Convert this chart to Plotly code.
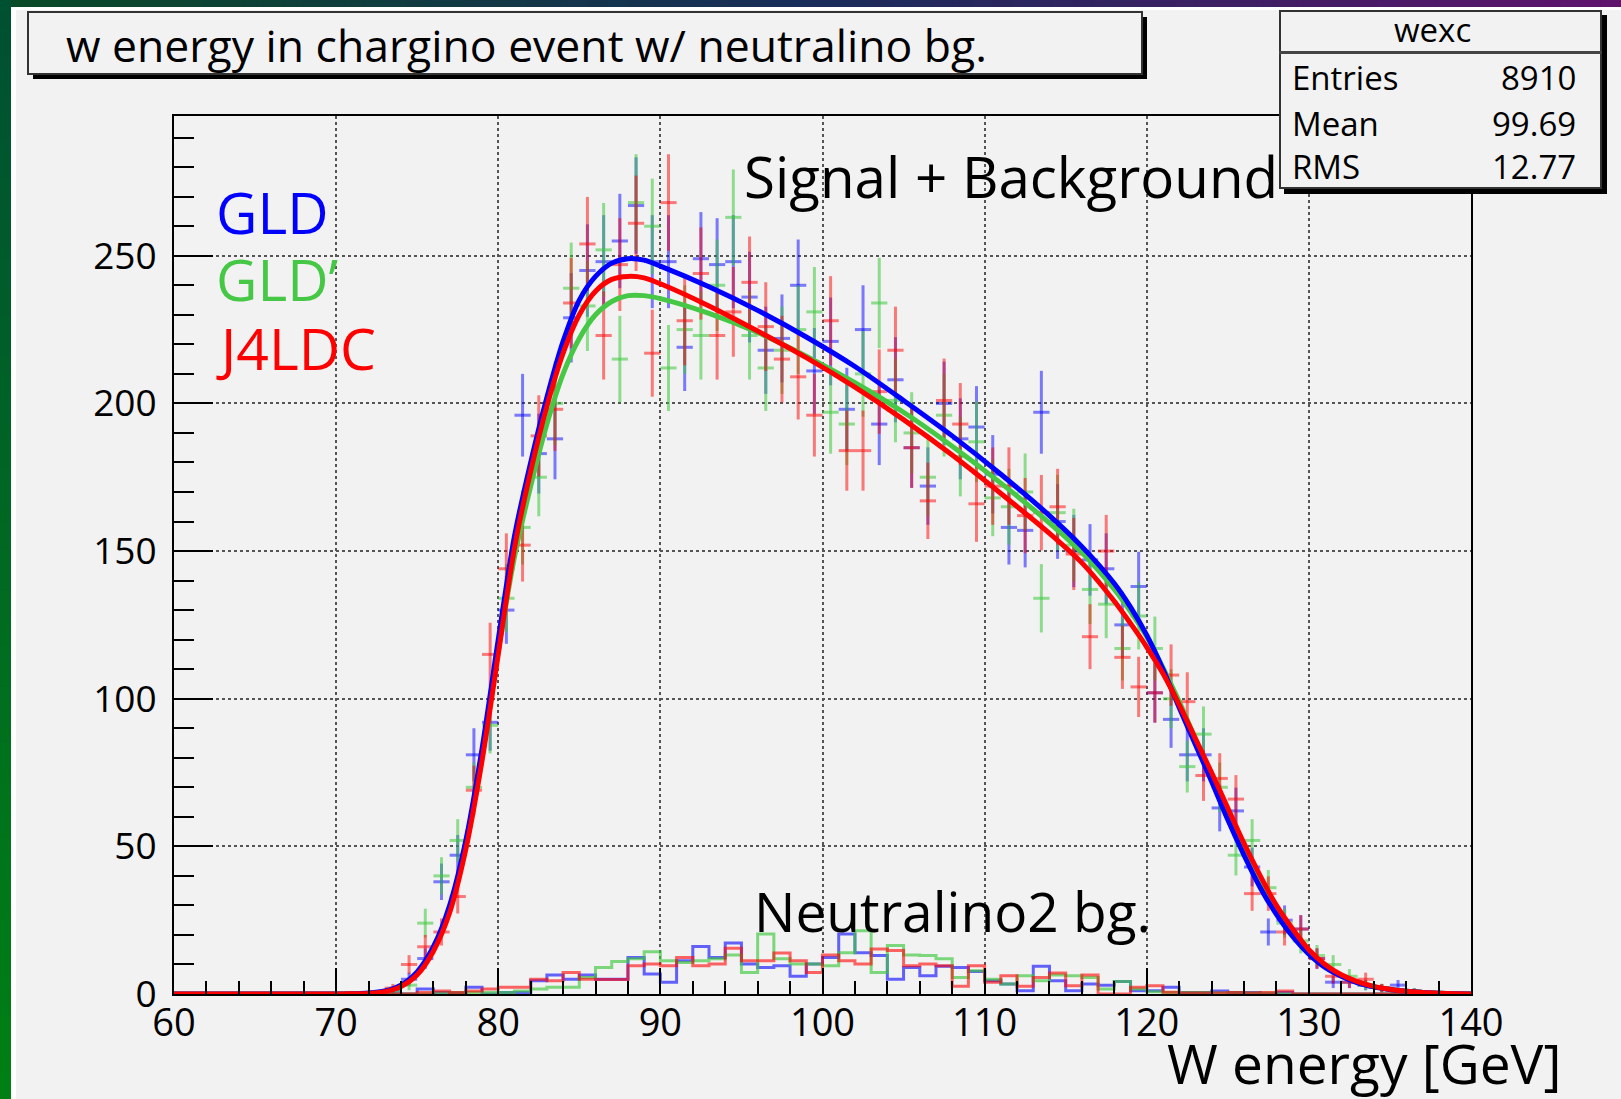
import numpy as np
import plotly.graph_objects as go

# ---------------- data ----------------
# signal + background histograms, 1 GeV bins, centres 72.5 ... 137.5
bin_centers = [72.5 + i for i in range(66)]
gld_counts = [0, 1, 5, 12, 38, 47, 81, 92, 130, 196,
              183, 188, 229, 245, 248, 255, 267, 248, 248, 219,
              249, 247, 248, 236, 218, 222, 240, 211, 221, 198,
              225, 193, 208, 185, 172, 200, 188, 192, 176, 158,
              157, 197, 160, 150, 147, 144, 125, 138, 102, 93,
              81, 81, 63, 62, 43, 21, 25, 22, 12, 4,
              4, 3, 2, 3, 1, 0]
gldp_counts = [0, 1, 3, 24, 40, 52, 70, 91, 134, 158,
               175, 200, 239, 233, 252, 215, 268, 260, 212, 225,
               223, 240, 263, 223, 212, 218, 225, 231, 197, 193,
               210, 234, 201, 190, 175, 196, 182, 187, 168, 165,
               170, 134, 163, 152, 137, 132, 117, 128, 117, 100,
               77, 88, 70, 47, 52, 36, 24, 18, 13, 10,
               6, 3, 2, 1, 1, 0]
j4ldc_counts = [0, 2, 10, 16, 21, 33, 69, 115, 144, 152,
                189, 198, 234, 254, 223, 247, 261, 217, 268, 228,
                244, 223, 231, 241, 226, 215, 209, 196, 228, 184,
                184, 204, 218, 185, 167, 201, 193, 166, 172, 172,
                162, 163, 165, 149, 121, 150, 114, 104, 102, 108,
                99, 74, 73, 66, 34, 34, 21, 22, 12, 6,
                4, 5, 2, 1, 0, 0]

# fit curves read at these energies (GeV)
curve_x = ([70, 71, 72, 73, 74, 75, 76, 77, 78, 79, 80, 81, 82, 83, 84, 85, 86, 87, 88, 89, 90]
           + [93, 96, 99, 102, 105, 108, 111, 114, 116]
           + [118, 119, 120, 121, 122, 123, 124, 125, 126, 127, 128, 129, 130, 131, 132, 133, 134,
              135, 136, 137, 138, 139, 140])
gld_fit = ([0, 0.1, 0.3, 1, 3, 7.5, 16, 30, 52, 83, 120, 155, 180, 202, 221, 235, 243, 247.5, 249, 248.5, 246.5]
           + [239.5, 231.5, 222.5, 212.5, 201, 189, 176, 162, 151.5]
           + [139, 131, 121.5, 110, 97, 84.5, 72, 59, 47, 36, 27, 19.5, 13.5, 9, 6, 3.8, 2.4,
              1.5, 0.9, 0.5, 0.25, 0.1, 0])
gldp_fit = ([0, 0.1, 0.25, 0.9, 2.7, 7, 15, 28.5, 50, 80, 116, 148, 172, 193, 210, 222, 230, 234.5, 236.5, 236.5, 235.5]
            + [230.5, 224, 216, 207, 197, 185.5, 173, 159.5, 149.5]
            + [137, 129.5, 121, 110.5, 99, 86.5, 74, 61.5, 49.5, 38.5, 29, 21, 14.5, 9.5, 6.2, 4, 2.5,
               1.5, 0.9, 0.5, 0.25, 0.1, 0])
j4ldc_fit = ([0, 0.1, 0.2, 0.8, 2.5, 6.5, 14.5, 27.5, 49, 79, 115, 151, 177, 199, 217, 230, 238, 242, 243, 242.5, 240.5]
             + [233, 224.5, 215.5, 205.5, 194.5, 182.5, 169.5, 156, 146]
             + [133, 125.5, 117.5, 108.5, 98, 86.5, 75, 63, 51, 40, 30, 22, 15, 10, 6.5, 4.2, 2.6,
                1.6, 0.9, 0.5, 0.25, 0.1, 0])

# neutralino2 background, 1 GeV bins, low edges 74 ... 128
bg_low_edges = [74 + i for i in range(55)]
gld_bg = [0, 1.7, 0.5, 0.3, 2.3, 0, 0.5, 0.5, 4.5, 6.4,
          5, 6.4, 5, 5, 12.4, 6.8, 4, 11.3, 16.1, 12.4,
          17.3, 10.2, 9, 9.6, 6, 10.2, 12.4, 20.3, 14, 13,
          5, 9, 6.2, 9.4, 9, 7.6, 4.5, 3.4, 1.1, 9.4,
          4.5, 1.1, 3.4, 3, 4.2, 1.1, 1.1, 2.3, 0.5, 0.5,
          1, 0.5, 0.5, 0, 0.5]
gldp_bg = [0, 0, 0.3, 0.5, 0.5, 0.5, 0.5, 1, 1.7, 2.3,
           2.3, 5.6, 9, 11, 11.9, 14.3, 11.3, 10.7, 11.3, 11.9,
           13.2, 7.3, 20.3, 11.9, 10.2, 10.2, 9.6, 14, 21.4, 7.3,
           16.4, 13.2, 13, 11.9, 5.6, 7.9, 5, 3.4, 6.2, 4.5,
           6.4, 6.2, 5.6, 1.7, 4.2, 1.7, 0.8, 0.5, 0.5, 0.5,
           0.3, 0.5, 0.3, 0.3, 0]
j4ldc_bg = [0, 0.5, 1, 0.5, 1, 1.7, 2.3, 2.3, 5, 4.5,
            7.3, 5, 4.9, 4.9, 9.6, 10.2, 9.6, 12.4, 9.6, 10.2,
            15.5, 11.3, 11.3, 13.9, 11.3, 7.3, 13.2, 11.3, 10.2, 15.2,
            14.7, 9.6, 10.2, 9.6, 2.6, 9.6, 4, 6.2, 2.6, 5.6,
            7.1, 2.8, 6.4, 0, 0, 2.3, 2.8, 0.6, 0.3, 0.3,
            0.3, 0.5, 0.3, 0.5, 1]

x_ticks = [60, 70, 80, 90, 100, 110, 120, 130, 140]
y_ticks = [0, 50, 100, 150, 200, 250]
stats = [("Entries", "8910"), ("Mean", "99.69"), ("RMS", "12.77")]

# ---------------- styling ----------------
FONT = "Open Sans"
BG = "#f2f2f2"
BLUE, GREEN, RED = "#0000ff", "#46c846", "#ff0000"
BLUE_A, GREEN_A, RED_A = "rgba(0,0,255,0.5)", "rgba(60,200,60,0.55)", "rgba(255,0,0,0.5)"

FW, FH = 1621, 1099
L, T, Wd, Ht = 174, 116, 1297, 878


def px(x):
    return (x - L) / Wd


def py(y):
    return (T + Ht - y) / Ht


fig = go.Figure()

# data points with errors
for counts, col in [(gld_counts, BLUE_A), (gldp_counts, GREEN_A), (j4ldc_counts, RED_A)]:
    xs = [c for c, v in zip(bin_centers, counts) if v > 0]
    ys = [v for v in counts if v > 0]
    fig.add_trace(go.Scatter(
        x=xs, y=ys, mode="markers",
        marker=dict(size=1, color="rgba(0,0,0,0)"),
        error_y=dict(type="data", array=list(np.sqrt(ys)), color=col, thickness=3, width=0),
        error_x=dict(type="constant", value=0.5, color=col, thickness=3, width=0),
        showlegend=False, hoverinfo="skip"))

# background histograms as steps over the full range
edges = list(range(60, 141))
for bgv, col in [(gld_bg, "rgba(0,0,255,0.6)"), (gldp_bg, "rgba(60,200,60,0.65)"), (j4ldc_bg, "rgba(255,0,0,0.6)")]:
    full = np.zeros(80)
    start = bg_low_edges[0] - 60
    full[start:start + len(bgv)] = bgv
    ys = list(full) + [full[-1]]
    fig.add_trace(go.Scatter(x=edges, y=ys, mode="lines", line=dict(color=col, width=3, shape="hv"),
                             showlegend=False, hoverinfo="skip"))

# fit curves
for fit, col in [(gldp_fit, GREEN), (gld_fit, BLUE), (j4ldc_fit, RED)]:
    fig.add_trace(go.Scatter(x=[60] + curve_x, y=[0] + fit, mode="lines",
                             line=dict(color=col, width=5, shape="spline", smoothing=0.8),
                             showlegend=False, hoverinfo="skip"))

# ---------------- decorations ----------------
shapes = []
n = 80
c_top = [(10, 75, 40), (25, 45, 90), (95, 20, 110)]


def lerp3(stops, t):
    if t < 0.5:
        a, b, u = stops[0], stops[1], t / 0.5
    else:
        a, b, u = stops[1], stops[2], (t - 0.5) / 0.5
    return "rgb(%d,%d,%d)" % tuple(int(a[k] + (b[k] - a[k]) * u) for k in range(3))


for i in range(n):
    x0 = i * FW / n
    x1 = (i + 1) * FW / n + 1
    shapes.append(dict(type="rect", xref="paper", yref="paper", x0=px(x0), x1=px(x1), y0=py(0), y1=py(7),
                       fillcolor=lerp3(c_top, i / (n - 1)), line=dict(width=0), layer="below"))
c_left = [(0, 80, 50), (0, 105, 35), (0, 128, 20)]
for i in range(n):
    y0 = i * FH / n
    y1 = (i + 1) * FH / n + 1
    shapes.append(dict(type="rect", xref="paper", yref="paper", x0=px(0), x1=px(11), y0=py(y0), y1=py(y1),
                       fillcolor=lerp3(c_left, i / (n - 1)), line=dict(width=0), layer="below"))
shapes.append(dict(type="rect", xref="paper", yref="paper", x0=px(11), x1=px(16), y0=py(7), y1=py(FH),
                   fillcolor="white", line=dict(width=0), layer="below"))
shapes.append(dict(type="rect", xref="paper", yref="paper", x0=px(11), x1=px(FW), y0=py(7), y1=py(10),
                   fillcolor="white", line=dict(width=0), layer="below"))
# title box with shadow
shapes.append(dict(type="rect", xref="paper", yref="paper", x0=px(33), x1=px(1147), y0=py(17), y1=py(79),
                   fillcolor="black", line=dict(width=0), layer="below"))
shapes.append(dict(type="rect", xref="paper", yref="paper", x0=px(28), x1=px(1142), y0=py(12), y1=py(74),
                   fillcolor=BG, line=dict(width=2, color="#333"), layer="below"))
fig.update_layout(shapes=shapes)

ann = []


def text(s, x, y, size, color="black", xanchor="left", yanchor="middle"):
    ann.append(dict(text=s, x=px(x), y=py(y), xref="paper", yref="paper", xanchor=xanchor, yanchor=yanchor,
                    showarrow=False, font=dict(family=FONT, size=size, color=color)))


text("w energy in chargino event w/ neutralino bg.", 64, 44, 44.5)
text("GLD", 214, 212, 57, BLUE)
text("GLD’", 214, 279, 57, GREEN)
text("J4LDC", 214, 348, 57, RED)
text("Signal + Background", 742, 176, 56.5)
text("Neutralino2 bg.", 752, 910, 55)
text("W energy [GeV]", 1563, 1062, 55, xanchor="right")


def box(x0, y0, x1, y1, fill, border=0, bcol="black"):
    ann.append(dict(text=" ", x=px(x0), y=py(y0), xref="paper", yref="paper", xanchor="left", yanchor="top",
                    showarrow=False, width=x1 - x0 - 2 * border, height=y1 - y0 - 2 * border, borderpad=0,
                    bgcolor=fill, bordercolor=bcol, borderwidth=border, font=dict(size=2)))


box(1284, 15, 1607, 194, "black")
box(1279, 10, 1602, 189, BG, 2, "#333")
box(1279, 51, 1602, 54, "#444")
text("wexc", 1432, 29, 33, xanchor="center")
for k, (lab, val) in enumerate(stats):
    yy = [78, 123, 166][k]
    text(lab, 1290, yy, 33)
    text(val, 1578, yy, 33, xanchor="right")

fig.update_layout(annotations=ann)

fig.update_layout(
    width=FW, height=FH,
    margin=dict(l=L, r=FW - L - Wd, t=T, b=FH - T - Ht, pad=0),
    paper_bgcolor=BG, plot_bgcolor=BG,
    showlegend=False,
    font=dict(family=FONT, color="black"),
    xaxis=dict(range=[60, 140], tickvals=x_ticks, ticktext=[str(v) for v in x_ticks],
               ticks="inside", ticklen=26, tickwidth=2, tickcolor="black",
               minor=dict(dtick=2, tick0=60, ticks="inside", ticklen=13, tickwidth=2, tickcolor="black", showgrid=False),
               showgrid=True, gridcolor="#555", griddash="dot", gridwidth=2,
               showline=True, linecolor="black", linewidth=2, mirror=True, zeroline=False,
               tickfont=dict(family=FONT, size=38), ticklabelstandoff=-6),
    yaxis=dict(range=[0, 878 / 2.953], tickvals=y_ticks, ticktext=[str(v) for v in y_ticks],
               ticks="inside", ticklen=39, tickwidth=2, tickcolor="black",
               minor=dict(dtick=10, tick0=0, ticks="inside", ticklen=20, tickwidth=2, tickcolor="black", showgrid=False),
               showgrid=True, gridcolor="#555", griddash="dot", gridwidth=2,
               showline=True, linecolor="black", linewidth=2, mirror=True, zeroline=False,
               tickfont=dict(family=FONT, size=37), ticklabelstandoff=8),
)

fig.write_html("out.html", post_script="document.body.style.margin='0';document.body.style.overflow='hidden';")
